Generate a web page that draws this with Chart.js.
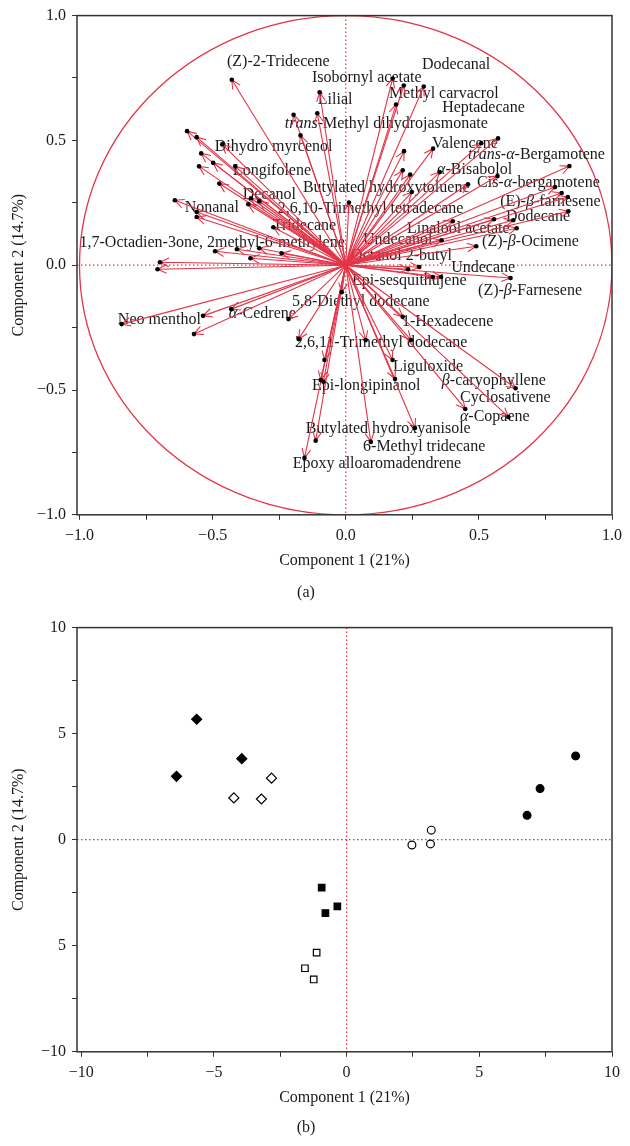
<!DOCTYPE html>
<html>
<head>
<meta charset="utf-8">
<script src="https://cdn.jsdelivr.net/npm/chart.js@4"></script>
<style>
	body { margin: 0; background: #fff; }
	canvas { position: absolute; left: 0; }
	#chartA { top: 0; }
	#chartB { top: 612px; }
</style>
</head>
<body>
<canvas id="chartA" width="630" height="612"></canvas>
<canvas id="chartB" width="630" height="534"></canvas>
<script>
// (a) loadings: arrow tips
const vectorX = [-0.428, -0.098, -0.107, -0.196, -0.17, -0.596, -0.56, -0.464, -0.543, -0.498,
	-0.551, -0.415, -0.475, -0.642, -0.56, -0.56, -0.356, -0.325, -0.366, -0.272,
	-0.491, -0.409, -0.325, -0.358, -0.241, -0.698, -0.707, -0.842, -0.536, -0.57,
	-0.43, -0.215, -0.177, -0.015, 0.176, 0.218, 0.293, 0.189, 0.509, 0.572,
	0.328, 0.219, 0.214, 0.242, 0.353, 0.57, 0.84, 0.459, 0.248, 0.786,
	0.811, 0.834, 0.836, 0.012, 0.629, 0.557, 0.402, 0.642, 0.49, 0.36,
	0.276, 0.234, 0.619, 0.327, 0.358, 0.214, 0.245, 0.176, 0.185, -0.094,
	-0.084, 0.638, 0.449, 0.611, -0.113, 0.26, 0.094, -0.155, 0.075, -0.08];
const vectorY = [0.743, 0.693, 0.609, 0.603, 0.52, 0.537, 0.513, 0.484, 0.448, 0.41,
	0.396, 0.396, 0.327, 0.26, 0.213, 0.193, 0.268, 0.256, 0.244, 0.152,
	0.056, 0.064, 0.068, 0.028, 0.048, 0.012, -0.016, -0.236, -0.203, -0.276,
	-0.176, -0.216, -0.296, -0.108, 0.748, 0.72, 0.716, 0.644, 0.489, 0.508,
	0.467, 0.457, 0.38, 0.363, 0.373, 0.357, 0.397, 0.324, 0.293, 0.313,
	0.289, 0.273, 0.216, 0.251, 0.18, 0.184, 0.176, 0.148, 0.076, 0.1,
	-0.007, -0.016, -0.051, -0.047, -0.047, -0.207, -0.3, -0.38, -0.456, -0.46,
	-0.467, -0.493, -0.576, -0.608, -0.703, -0.652, -0.708, -0.772, -0.3, -0.38];

// (a) compound names, italic parts between underscores; anchor = left/middle in data units
const labelText = ['(Z)-2-Tridecene', 'Isobornyl acetate', 'Dodecanal', 'Lilial', 'Methyl carvacrol',
	'Heptadecane', '_trans_-Methyl dihydrojasmonate', 'Dihydro myrcenol', 'Valencene', '_trans_-_α_-Bergamotene',
	'_α_-Bisabolol', 'Longifolene', 'Cis-_α_-bergamotene', 'Butylated hydroxytoluene', 'Decanol',
	'(E)-_β_-farnesene', 'Nonanal', '2,6,10-Trimethyl tetradecane', 'Dodecane', 'Tridecane',
	'Linalool acetate', 'Undecanol', '(Z)-_β_-Ocimene', '1,7-Octadien-3one, 2methyl-6-methylene', 'Octanol 2-butyl',
	'Undecane', 'Epi-sesquithujene', '(Z)-_β_-Farnesene', '5,8-Diethyl dodecane', '_α_-Cedrene',
	'Neo menthol', '1-Hexadecene', '2,6,11-Trimethyl dodecane', 'Liguloxide', '_β_-caryophyllene',
	'Epi-longipinanol', 'Cyclosativene', '_α_-Copaene', 'Butylated hydroxyanisole', '6-Methyl tridecane',
	'Epoxy alloaromadendrene'];
const labelX = [-0.446, -0.127, 0.286, -0.105, 0.162, 0.362, -0.229, -0.492, 0.324, 0.459,
	0.343, -0.424, 0.493, -0.161, -0.387, 0.58, -0.605, -0.255, 0.602, -0.274,
	0.23, 0.065, 0.512, -1.0, 0.02, 0.396, 0.023, 0.497, -0.202, -0.439,
	-0.856, 0.211, -0.191, 0.177, 0.361, -0.127, 0.429, 0.429, -0.15, 0.065,
	-0.199];
const labelY = [0.813, 0.752, 0.804, 0.664, 0.688, 0.632, 0.568, 0.476, 0.488, 0.444,
	0.384, 0.38, 0.332, 0.312, 0.284, 0.256, 0.228, 0.224, 0.192, 0.156,
	0.144, 0.1, 0.092, 0.088, 0.036, -0.012, -0.064, -0.104, -0.148, -0.196,
	-0.22, -0.228, -0.312, -0.408, -0.464, -0.484, -0.532, -0.608, -0.656, -0.728,
	-0.796];

const ticksA = [-1, -0.75, -0.5, -0.25, 0, 0.25, 0.5, 0.75, 1];
const tickLabelsA = {'-1': '−1.0', '-0.5': '−0.5', '0': '0.0', '0.5': '0.5', '1': '1.0'};

// (b) scores by group
const diamondFilledX = [-6.41, -5.65, -3.95];
const diamondFilledY = [2.99, 5.68, 3.82];
const diamondOpenX = [-4.25, -3.21, -2.83];
const diamondOpenY = [1.97, 1.92, 2.9];
const circleFilledX = [6.8, 7.29, 8.63];
const circleFilledY = [1.15, 2.41, 3.95];
const circleOpenX = [2.46, 3.16, 3.19];
const circleOpenY = [-0.25, -0.2, 0.45];
const squareFilledX = [-0.94, -0.8, -0.35];
const squareFilledY = [-2.26, -3.46, -3.14];
const squareOpenX = [-1.13, -1.57, -1.24];
const squareOpenY = [-5.32, -6.06, -6.59];

const ticksB = [-10, -7.5, -5, -2.5, 0, 2.5, 5, 7.5, 10];
const xTickLabelsB = {'-10': '−10', '-5': '−5', '0': '0', '5': '5', '10': '10'};
const yTickLabelsB = {'-10': '−10', '-5': '5', '0': '0', '5': '5', '10': '10'};

const red = 'rgb(228, 52, 72)';
const serif = '"Liberation Serif", "DejaVu Serif", serif';
const ink = '#1a1a1a';

Chart.defaults.font.family = serif;
Chart.defaults.font.size = 16;
Chart.defaults.color = ink;

const pts = (xs, ys) => xs.map((x, i) => ({x, y: ys[i]}));

function axis(tickValues, labels, extra) {
	return Object.assign({
		type: 'linear',
		afterBuildTicks: s => { s.ticks = tickValues.map(value => ({value})); },
		ticks: {
			autoSkip: false,
			maxRotation: 0,
			padding: 6,
			callback: v => labels[String(v)] || ''
		},
		grid: {drawOnChartArea: false, tickLength: 5, color: '#333', lineWidth: 1},
		border: {display: false}
	}, extra);
}

function zeroLines(chart) {
	const {ctx, chartArea: a, scales: {x, y}} = chart;
	const zx = x.getPixelForValue(0), zy = y.getPixelForValue(0);
	ctx.save();
	ctx.strokeStyle = red;
	ctx.lineWidth = 1.2;
	ctx.setLineDash([1.5, 2.5]);
	ctx.beginPath();
	ctx.moveTo(zx, a.top); ctx.lineTo(zx, a.bottom);
	ctx.moveTo(a.left, zy); ctx.lineTo(a.right, zy);
	ctx.stroke();
	ctx.restore();
}

const frame = {
	id: 'frame',
	afterDraw(chart) {
		const {ctx, chartArea: a} = chart;
		ctx.save();
		ctx.strokeStyle = '#333';
		ctx.lineWidth = 1.5;
		ctx.strokeRect(a.left, a.top, a.right - a.left, a.bottom - a.top);
		ctx.restore();
	}
};

function drawRich(ctx, text, x, y) {
	let cx = x;
	text.split('_').forEach((part, i) => {
		ctx.font = (i % 2 ? 'italic ' : '') + '16px ' + serif;
		ctx.fillText(part, cx, y);
		cx += ctx.measureText(part).width;
	});
}

const biplot = {
	id: 'biplot',
	beforeDatasetsDraw(chart) {
		const {ctx, chartArea: a, scales: {x, y}} = chart;
		zeroLines(chart);
		const cx = x.getPixelForValue(0), cy = y.getPixelForValue(0);

		ctx.save();
		ctx.beginPath();
		ctx.rect(a.left, a.top, a.right - a.left, a.bottom - a.top);
		ctx.clip();

		// correlation circle
		ctx.strokeStyle = red;
		ctx.lineWidth = 1.3;
		ctx.beginPath();
		ctx.ellipse(cx, cy, x.getPixelForValue(1) - cx, cy - y.getPixelForValue(1), 0, 0, 2 * Math.PI);
		ctx.stroke();

		// names
		ctx.fillStyle = ink;
		ctx.textBaseline = 'middle';
		ctx.textAlign = 'left';
		labelText.forEach((t, i) => drawRich(ctx, t, x.getPixelForValue(labelX[i]), y.getPixelForValue(labelY[i])));

		// arrows
		ctx.strokeStyle = red;
		ctx.lineWidth = 1.1;
		vectorX.forEach((vx, i) => {
			const tx = x.getPixelForValue(vx), ty = y.getPixelForValue(vectorY[i]);
			const ang = Math.atan2(ty - cy, tx - cx), head = 10, spread = 0.45;
			ctx.beginPath();
			ctx.moveTo(cx, cy);
			ctx.lineTo(tx, ty);
			ctx.moveTo(tx - head * Math.cos(ang - spread), ty - head * Math.sin(ang - spread));
			ctx.lineTo(tx, ty);
			ctx.lineTo(tx - head * Math.cos(ang + spread), ty - head * Math.sin(ang + spread));
			ctx.stroke();
		});
		ctx.restore();
	}
};

new Chart(document.getElementById('chartA'), {
	type: 'scatter',
	data: {
		datasets: [{
			data: pts(vectorX, vectorY),
			pointRadius: 2.3,
			backgroundColor: '#000',
			borderWidth: 0
		}]
	},
	options: {
		responsive: false,
		animation: false,
		layout: {padding: {left: 0, right: 18, top: 15, bottom: 0}},
		plugins: {
			legend: {display: false},
			tooltip: {enabled: false},
			title: {display: true, text: '(a)', position: 'bottom', font: {size: 16, weight: 'normal'}, padding: {top: 6, bottom: 10}}
		},
		scales: {
			x: axis(ticksA, tickLabelsA, {
				min: -1.0094, max: 1,
				afterFit: s => { s.height = 62; },
				ticks: {autoSkip: false, maxRotation: 0, padding: 6, callback: v => tickLabelsA[String(v)] || ''},
				title: {display: true, text: 'Component 1 (21%)', padding: {top: 0, bottom: 6}}
			}),
			y: axis(ticksA, tickLabelsA, {
				min: -1, max: 1,
				afterFit: s => { s.width = 77; },
				title: {display: true, text: 'Component 2 (14.7%)', padding: {top: 9, bottom: 0}}
			})
		}
	},
	plugins: [biplot, frame]
});

const marker = (xs, ys, style, radius, filled) => ({
	data: pts(xs, ys),
	pointStyle: style,
	pointRadius: radius,
	backgroundColor: filled ? '#000' : '#fff',
	borderColor: '#000',
	borderWidth: 1.2
});

new Chart(document.getElementById('chartB'), {
	type: 'scatter',
	data: {
		datasets: [
			marker(diamondFilledX, diamondFilledY, 'rectRot', 5, true),
			marker(diamondOpenX, diamondOpenY, 'rectRot', 5, false),
			marker(circleFilledX, circleFilledY, 'circle', 3.9, true),
			marker(circleOpenX, circleOpenY, 'circle', 3.9, false),
			marker(squareFilledX, squareFilledY, 'rect', 4.6, true),
			marker(squareOpenX, squareOpenY, 'rect', 4.6, false)
		]
	},
	options: {
		responsive: false,
		animation: false,
		layout: {padding: {left: 0, right: 18, top: 9, bottom: 0}},
		plugins: {
			legend: {display: false},
			tooltip: {enabled: false},
			title: {display: true, text: '(b)', position: 'bottom', font: {size: 16, weight: 'normal'}, padding: {top: 4, bottom: 9}}
		},
		scales: {
			x: axis(ticksB, xTickLabelsB, {
				min: -10.16, max: 10,
				afterFit: s => { s.height = 62; },
				ticks: {autoSkip: false, maxRotation: 0, padding: 6, callback: v => xTickLabelsB[String(v)] || ''},
				title: {display: true, text: 'Component 1 (21%)', padding: {top: 0, bottom: 6}}
			}),
			y: axis(ticksB, yTickLabelsB, {
				min: -10, max: 10,
				afterFit: s => { s.width = 77; },
				title: {display: true, text: 'Component 2 (14.7%)', padding: {top: 9, bottom: 0}}
			})
		}
	},
	plugins: [{id: 'zero', beforeDatasetsDraw: zeroLines}, frame]
});
</script>
</body>
</html>
